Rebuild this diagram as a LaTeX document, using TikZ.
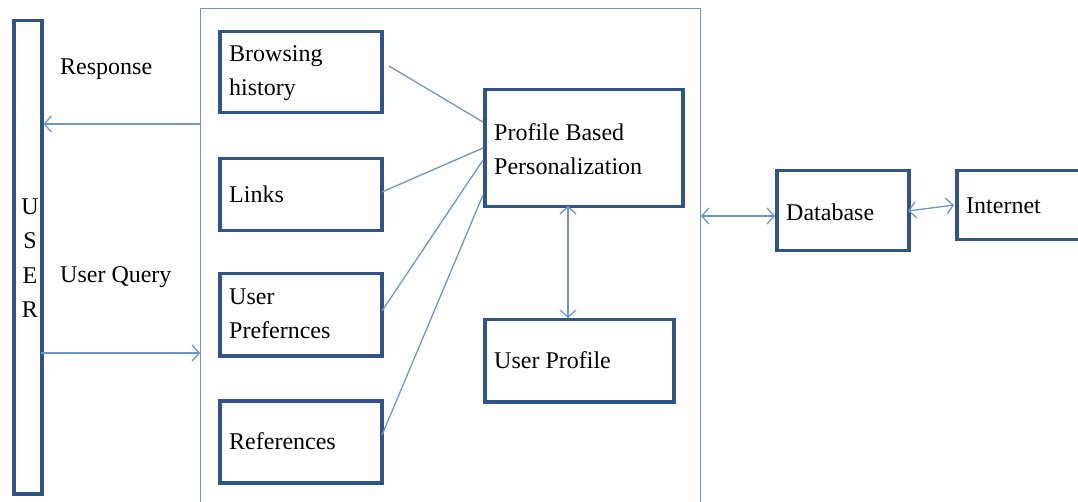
\documentclass[tikz,border=0pt]{standalone}
\usepackage{fontspec}
\setmainfont{Liberation Serif}
\usetikzlibrary{arrows.meta}
\definecolor{boxc}{RGB}{47,84,137}
\definecolor{linec}{RGB}{110,148,204}
\tikzset{
  box/.style={draw=boxc, line width=3.5pt, rectangle, anchor=north west, inner sep=0pt},
  cont/.style={draw=linec, line width=1.3pt, rectangle, anchor=north west, inner sep=0pt},
  lbl/.style={font=\fontsize{24}{34}\selectfont, anchor=west, align=left, inner sep=0pt},
  conn/.style={draw=linec, line width=1.3pt},
  arr/.style={conn, -{Straight Barb[length=7pt,width=16pt]}},
  darr/.style={conn, {Straight Barb[length=7pt,width=16pt]}-{Straight Barb[length=7pt,width=16pt]}}
}
\begin{document}
\begin{tikzpicture}[x=1pt,y=-1pt]
\useasboundingbox (0,0) rectangle (1078,502);
% container
\node[cont, minimum width=500pt, minimum height=500pt] (cont) at (200,8) {};
% user
\node[box, minimum width=28pt, minimum height=473pt] (user) at (12,19) {};
\node[font=\fontsize{24}{34.5}\selectfont, align=center, inner sep=0pt] (usert) at (30,258) {U\\S\\E\\R};
% left boxes
\node[box, minimum width=162pt, minimum height=81pt] (bh) at (218,30) {};
\node[lbl] (bht) at (229,73) {Browsing\\history};
\node[box, minimum width=162pt, minimum height=72pt] (ln) at (218,157) {};
\node[lbl] (lnt) at (229,194) {Links};
\node[box, minimum width=162pt, minimum height=82pt] (up) at (218,272) {};
\node[lbl] (upt) at (229,314) {User\\Prefernces};
\node[box, minimum width=162pt, minimum height=82pt] (rf) at (218,399) {};
\node[lbl] (rft) at (229,441) {References};
% right boxes
\node[box, minimum width=198pt, minimum height=117pt] (pbp) at (483,88) {};
\node[lbl] (pbpt) at (494,149) {Profile Based\\Personalization};
\node[box, minimum width=189pt, minimum height=82pt] (upr) at (483,318) {};
\node[lbl] (uprt) at (494,360) {User Profile};
\node[box, minimum width=132pt, minimum height=80pt] (db) at (775,169) {};
\node[lbl] (dbt) at (786,212) {Database};
\node[box, minimum width=130pt, minimum height=69pt] (inet) at (955,169) {};
\node[lbl] (inett) at (966,206) {Internet};
% labels
\node[lbl] (resp) at (60,69) {Response};
\node[lbl] (uq) at (60,277) {User Query};
% connectors
\coordinate (r1) at (200,124);
\draw[arr] (r1) -- (user.east |- r1);
\coordinate (q1) at (41,353);
\draw[arr] (q1) -- (cont.west |- q1);
\coordinate (b1) at (389,66);
\coordinate (p1) at (483,122);
\draw[conn] (b1) -- (p1);
\coordinate (l1) at (382,192);
\coordinate (p2) at (483,148);
\draw[conn] (l1) -- (p2);
\coordinate (u1) at (382,311);
\coordinate (p3) at (483,160);
\draw[conn] (u1) -- (p3);
\coordinate (f1) at (382,435);
\coordinate (p4) at (483,195);
\draw[conn] (f1) -- (p4);
\coordinate (v1) at (568,206);
\draw[darr] (v1) -- (v1 |- upr.north);
\coordinate (h1) at (701,216);
\draw[darr] (h1) -- (db.west |- h1);
\coordinate (d1) at (908,211);
\coordinate (d2) at (954,205);
\draw[darr] (d1) -- (d2);
\end{tikzpicture}
\end{document}
